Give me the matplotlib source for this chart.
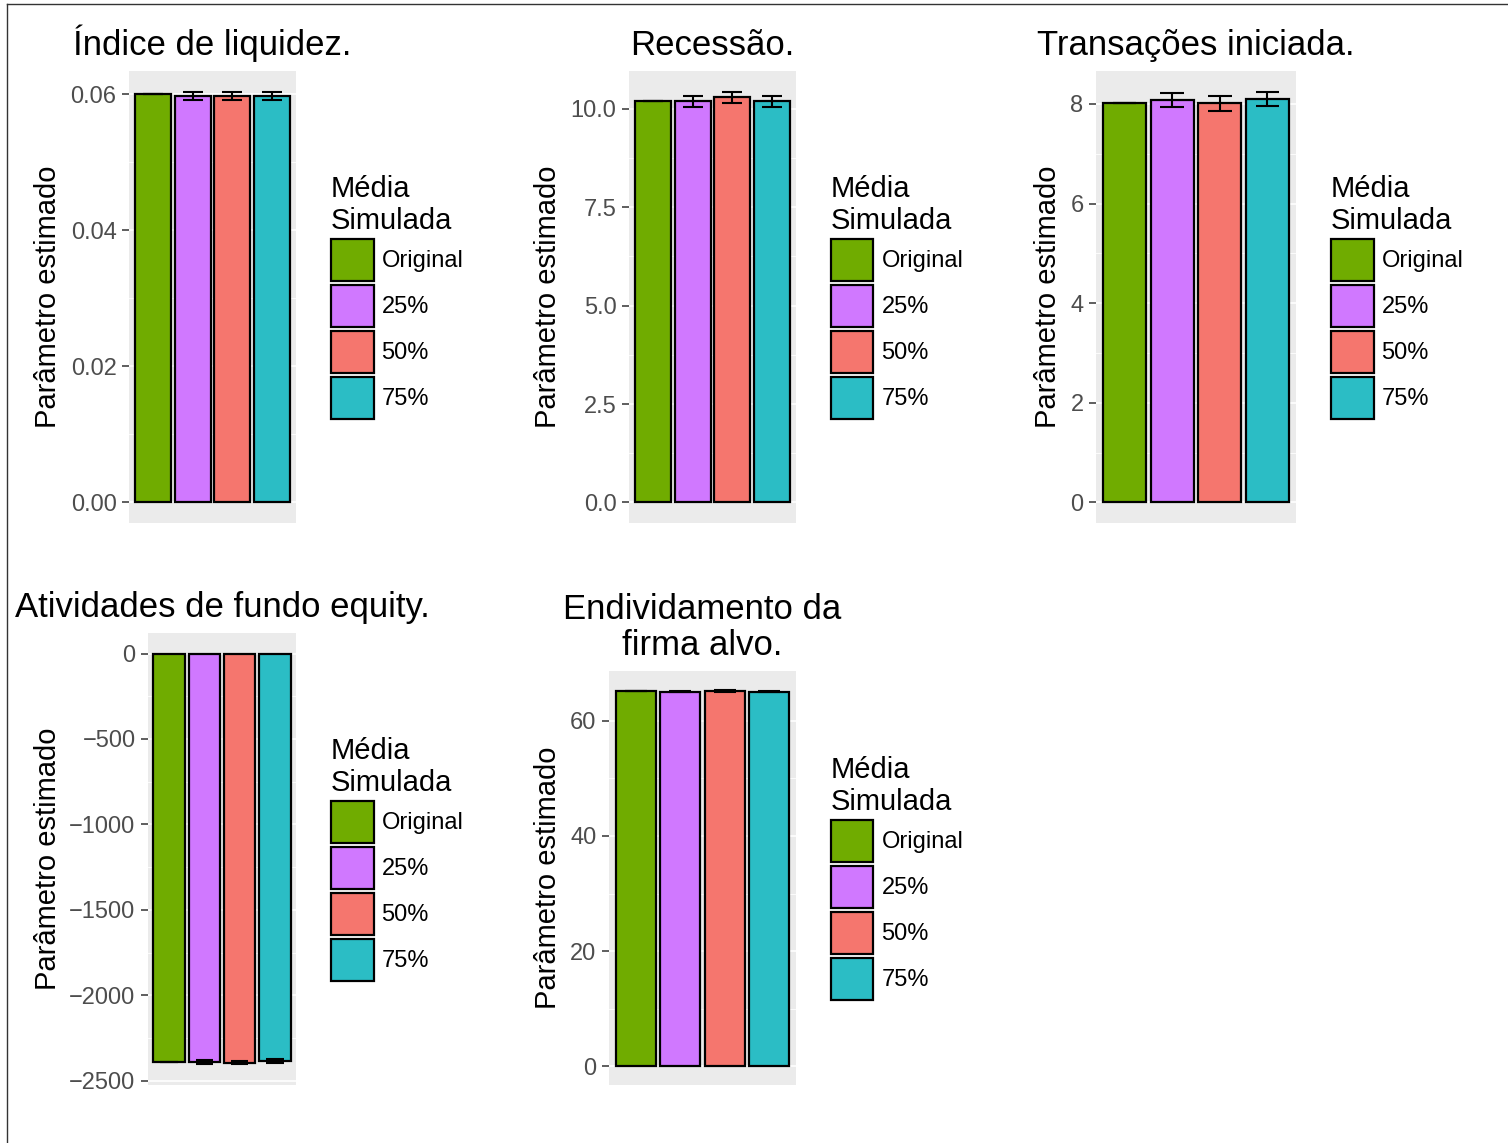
import matplotlib
matplotlib.use("Agg")
import matplotlib.pyplot as plt
from matplotlib.patches import Patch
from matplotlib.lines import Line2D

plt.rcParams['font.family'] = ['Liberation Sans', 'DejaVu Sans']

# data
groups = ["Original", "25%", "50%", "75%"]
colors = ["#70AC00", "#D078FF", "#F5766E", "#2BBDC5"]

titles = ["Índice de liquidez.", "Recessão.", "Transações iniciada.",
          "Atividades de fundo equity.", "Endividamento da\nfirma alvo."]

liq_mean = [0.0600, 0.0598, 0.0598, 0.0598]
liq_err = [0.0, 0.0006, 0.0006, 0.0006]
liq_ticks = [0.00, 0.02, 0.04, 0.06]
liq_labels = ["0.00", "0.02", "0.04", "0.06"]

rec_mean = [10.19, 10.19, 10.29, 10.19]
rec_err = [0.0, 0.14, 0.145, 0.14]
rec_ticks = [0.0, 2.5, 5.0, 7.5, 10.0]
rec_labels = ["0.0", "2.5", "5.0", "7.5", "10.0"]

tra_mean = [8.03, 8.08, 8.01, 8.10]
tra_err = [0.0, 0.15, 0.16, 0.15]
tra_ticks = [0, 2, 4, 6, 8]
tra_labels = ["0", "2", "4", "6", "8"]

fun_mean = [-2388, -2392, -2394, -2384]
fun_err = [0, 11, 11, 10]
fun_ticks = [0, -500, -1000, -1500, -2000, -2500]
fun_labels = ["0", "\u2212500", "\u22121000", "\u22121500", "\u22122000", "\u22122500"]

end_mean = [65.2, 65.1, 65.2, 65.1]
end_err = [0.0, 0.15, 0.2, 0.15]
end_ticks = [0, 20, 40, 60]
end_labels = ["0", "20", "40", "60"]

W, H = 1508, 1143
fig = plt.figure(figsize=(W / 100, H / 100), dpi=100)


def px_axes(left, top, right, bottom):
    return fig.add_axes([left / W, 1 - bottom / H, (right - left) / W, (bottom - top) / H])


def panel(box, legend_x, label_x, title, means, errs, ticks, labels):
    ax = px_axes(*box)
    ax.set_facecolor("#EBEBEB")
    xs = range(1, len(groups) + 1)
    ax.bar(xs, means, width=0.9, color=colors, edgecolor="black", linewidth=1.6, zorder=3)
    for x, m, e in zip(xs, means, errs):
        ax.vlines(x, m - e, m + e, color="black", lw=1.5, zorder=4)
        ax.hlines([m - e, m + e], x - 0.25, x + 0.25, color="black", lw=1.5, zorder=4)

    lo = min(0, min(m - e for m, e in zip(means, errs)))
    hi = max(0, max(m + e for m, e in zip(means, errs)))
    pad = 0.05 * (hi - lo)
    ax.set_ylim(lo - pad, hi + pad)
    ax.set_xlim(0.4, len(groups) + 0.6)

    # gridlines like ggplot
    ax.set_yticks(ticks)
    ax.set_yticklabels(labels)
    minor = [(a + b) / 2 for a, b in zip(ticks[:-1], ticks[1:])]
    ax.set_yticks(minor, minor=True)
    ax.grid(axis="y", which="major", color="white", lw=1.2, zorder=0)
    ax.grid(axis="y", which="minor", color="white", lw=0.6, zorder=0)
    ax.set_axisbelow(True)
    ax.set_xticks([])
    ax.tick_params(axis="y", which="major", length=5, width=1.1, color="#333333",
                   labelsize=17, labelcolor="#4D4D4D", pad=4)
    ax.tick_params(axis="y", which="minor", length=0)
    for s in ax.spines.values():
        s.set_visible(False)

    ax.set_title(title, fontsize=25, pad=11.5, linespacing=1.1)

    cy = 1 - (box[1] + box[3]) / 2 / H
    fig.text(label_x / W, cy, "Parâmetro estimado", rotation=90, ha="center",
             va="center", fontsize=21)

    handles = [Patch(facecolor=c, edgecolor="black", lw=1.6) for c in colors]
    leg = fig.legend(handles, groups, loc="center left", bbox_to_anchor=(legend_x / W, cy),
                     frameon=False, fontsize=17, title="Média\nSimulada", title_fontsize=21,
                     handlelength=1.8, handleheight=2.36, labelspacing=0.17,
                     handletextpad=0.34, borderpad=0, borderaxespad=0, alignment="left")
    leg.get_title().set_linespacing(1.15)
    return ax


panel((129, 71, 296, 523), 331, 48, titles[0], liq_mean, liq_err, liq_ticks, liq_labels)
panel((629, 71, 796, 523), 831, 548, titles[1], rec_mean, rec_err, rec_ticks, rec_labels)
panel((1096, 71, 1296, 523), 1331, 1048, titles[2], tra_mean, tra_err, tra_ticks, tra_labels)
panel((148, 633, 296, 1085), 331, 48, titles[3], fun_mean, fun_err, fun_ticks, fun_labels)
panel((609, 671, 796, 1085), 831, 548, titles[4], end_mean, end_err, end_ticks, end_labels)

# outer frame (top and left edges visible)
fig.add_artist(Line2D([7 / W, 7 / W], [0, 1 - 4 / H], color="#333333", lw=1))
fig.add_artist(Line2D([7 / W, 1], [1 - 4 / H, 1 - 4 / H], color="#333333", lw=1))

fig.savefig("out.png", dpi=100)
